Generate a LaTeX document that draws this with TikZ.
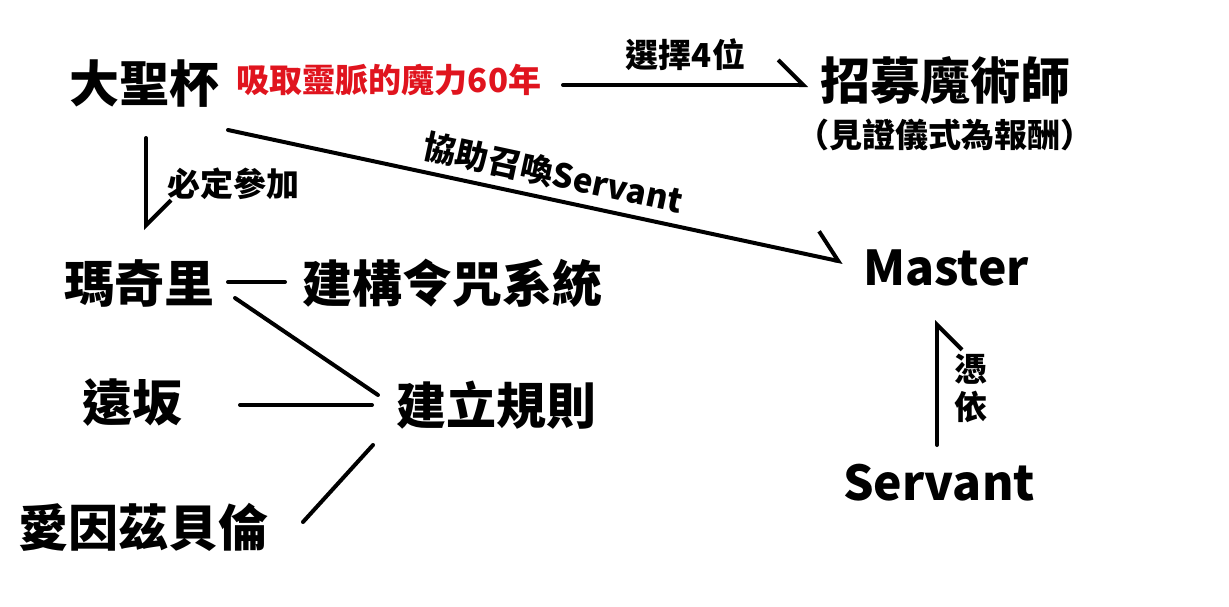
\documentclass[tikz,border=0pt]{standalone}
\usepackage{fontspec}
\setmainfont{Noto Sans CJK TC}
\usetikzlibrary{arrows.meta}

\begin{document}
\begin{tikzpicture}[x=1pt,y=-1pt,
  big/.style={font=\fontsize{50}{52}\selectfont\bfseries,inner sep=0},
  latin/.style={font=\fontsize{48}{50}\selectfont\bfseries,inner sep=0},
  small/.style={font=\fontsize{33}{38}\selectfont\bfseries,inner sep=0},
  conn/.style={line width=4pt,line cap=round,line join=round},
  arr/.style={conn,-{Straight Barb[harpoon,length=25pt,width=50pt,line width=4pt]}},
  arrs/.style={conn,-{Straight Barb[harpoon,swap,length=25pt,width=50pt,line width=4pt]}}]
\definecolor{spirit}{HTML}{E0141E}
\useasboundingbox (0,0) rectangle (1229,606);
% nodes
\node[big] (grail) at (144,84) {大聖杯};
\node[small,text=spirit] (drain) at (389,80) {吸取靈脈的魔力60年};
\node[big] (recruit) at (945,80) {招募魔術師};
\node[small] (reward) at (945,135) {（見證儀式為報酬）};
\node[big] (makiri) at (139,283) {瑪奇里};
\node[big] (seals) at (452,283) {建構令咒系統};
\node[latin] (master) at (946,268) {Master};
\node[big] (tohsaka) at (132,403) {遠坂};
\node[big] (rules) at (496,405) {建立規則};
\node[big] (einz) at (144,527) {愛因茲貝倫};
\node[latin] (servant) at (939,483) {Servant};
% connectors
\draw[arr] ([shift={(174,5)}]drain.center) -- ([shift={(-137,5)}]recruit.center)
  node[small,midway,above=12pt] {選擇4位};
\draw[arr] ([shift={(2,54)}]grail.center) -- ([shift={(7,-53)}]makiri.center)
  node[small,midway,right=19pt] {必定參加};
\draw[arr] ([shift={(84,46)}]grail.center) -- ([shift={(-103,-6)}]master.center)
  node[small,pos=0.52,sloped,above=8pt] {協助召喚Servant};
\draw[conn] ([shift={(89,-1)}]makiri.center) -- ([shift={(-167,-1)}]seals.center);
\draw[conn] ([shift={(96,15)}]makiri.center) -- ([shift={(-118,-10)}]rules.center);
\draw[conn] ([shift={(108,2)}]tohsaka.center) -- ([shift={(-124,0)}]rules.center);
\draw[conn] ([shift={(-123,40)}]rules.center) -- ([shift={(159,-5)}]einz.center);
\draw[arrs] ([shift={(-2,-38)}]servant.center) -- ([shift={(-9,52)}]master.center)
  node[small,midway,right=15pt,yshift=-6pt,align=center] {憑\\依};
\end{tikzpicture}
\end{document}
